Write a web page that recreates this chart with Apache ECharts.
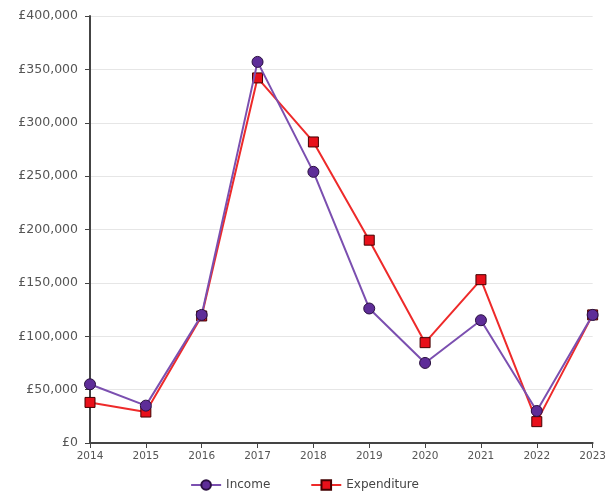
<!DOCTYPE html>
<html><head><meta charset="utf-8">
<script src="https://cdn.jsdelivr.net/npm/echarts@6/dist/echarts.min.js"></script>
<style>html,body{margin:0;padding:0;background:#fff}#c{width:609px;height:498px}</style>
</head><body><div id="c"></div>
<script>
const years = ['2014','2015','2016','2017','2018','2019','2020','2021','2022','2023'];
const income = [55000, 35000, 120000, 357000, 254000, 126000, 75000, 115000, 30000, 120000];
const expenditure = [38000, 29000, 119000, 342000, 282000, 190000, 94000, 153000, 20000, 120000];

const chart = echarts.init(document.getElementById('c'));
chart.setOption({
  animation: false,
  backgroundColor: '#fff',
  grid: {left: 90, right: 16, top: 16, bottom: 55},
  legend: {
    bottom: 2, left: 'center', itemWidth: 30, itemHeight: 12, itemGap: 40,
    textStyle: {color: '#444', fontFamily: 'DejaVu Sans', fontSize: 12},
    data: ['Income', 'Expenditure']
  },
  xAxis: {
    type: 'category', data: years, boundaryGap: false,
    axisLine: {lineStyle: {color: '#444', width: 2}},
    axisTick: {show: true, alignWithLabel: true, length: 5, lineStyle: {color: '#444'}},
    axisLabel: {color: '#555', fontSize: 10.5, fontFamily: 'DejaVu Sans', margin: 8}
  },
  yAxis: {
    type: 'value', min: 0, max: 400000, interval: 50000,
    axisLine: {show: true, lineStyle: {color: '#444', width: 2}},
    axisTick: {show: true, length: 5, lineStyle: {color: '#444'}},
    splitLine: {lineStyle: {color: '#e6e6e6'}},
    axisLabel: {color: '#555', fontSize: 12.5, fontFamily: 'DejaVu Sans', margin: 12,
      formatter: v => '£' + v.toLocaleString('en-GB')}
  },
  series: [
    {name: 'Expenditure', type: 'line', data: expenditure, symbol: 'rect', symbolSize: 10,
     lineStyle: {color: '#ee2a2a', width: 2},
     itemStyle: {color: '#e8101a', borderColor: '#400', borderWidth: 1}, z: 2},
    {name: 'Income', type: 'line', data: income, symbol: 'circle', symbolSize: 11,
     lineStyle: {color: '#7b4fb0', width: 2},
     itemStyle: {color: '#5e2d98', borderColor: '#2a1040', borderWidth: 1}, z: 3}
  ]
});
chart.setOption({legend: {data: ['Income', 'Expenditure']}});
</script></body></html>
